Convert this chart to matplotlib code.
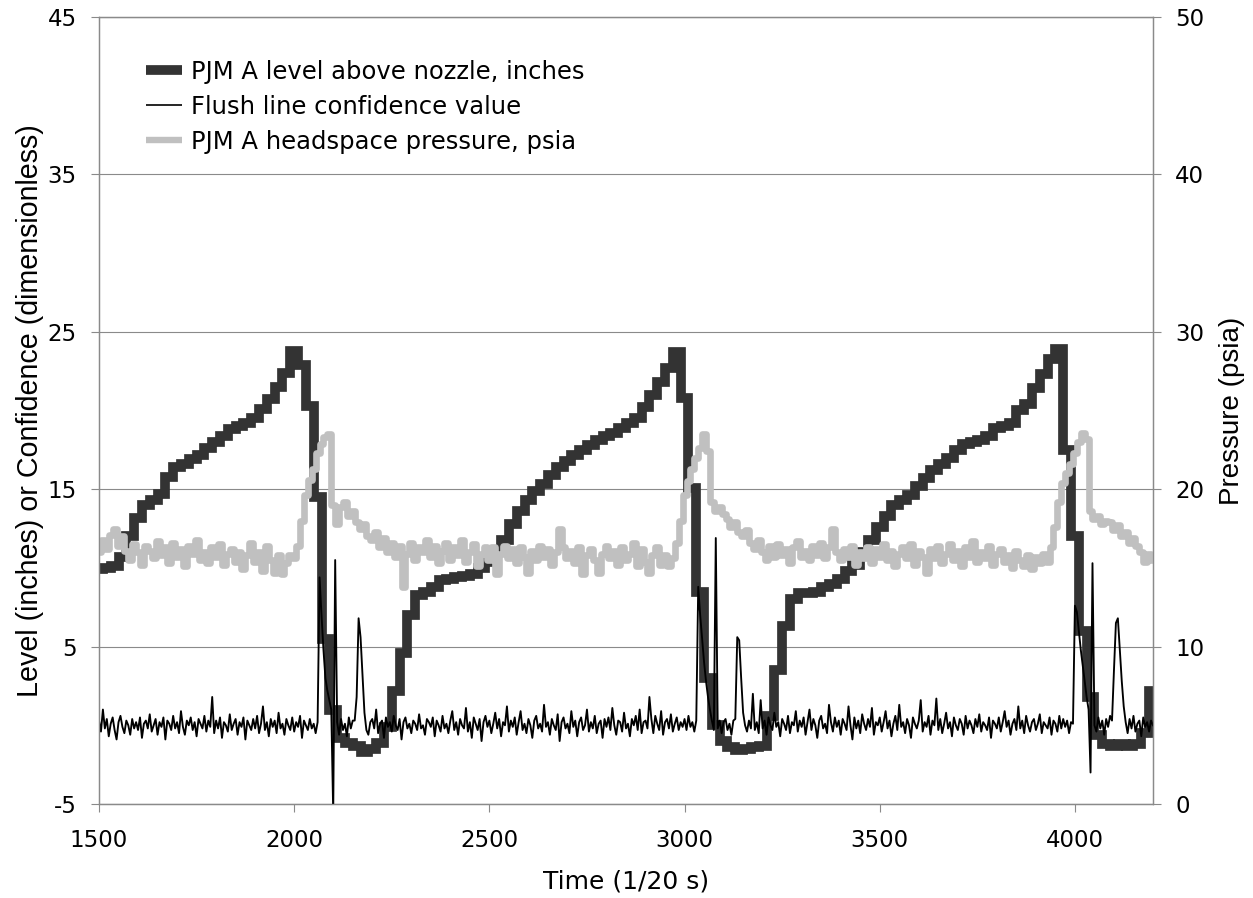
import numpy as np
import matplotlib
matplotlib.use("Agg")
import matplotlib.pyplot as plt

plt.rcParams["axes.unicode_minus"] = False

# ---------------- data ----------------
# PJM A level above nozzle (inches), sampled every 20 time units from 1500
level_start, level_step = 1500, 20
level_values = [
    9.9, 10.0, 10.1, 10.7, 12.0, 13.2, 14.0, 14.3, 14.7, 15.8,
    16.4, 16.6, 16.9, 17.2, 17.6, 18.0, 18.4, 18.8, 19.0, 19.2,
    19.5, 20.1, 20.7, 21.5, 22.4, 23.8, 22.9, 20.3, 14.5, 5.5,
    1.0, -0.8, -1.1, -1.3, -1.7, -1.5, -1.1, -0.1, 2.2, 4.6,
    7.0, 8.3, 8.5, 8.8, 9.2, 9.3, 9.4, 9.5, 9.6, 10.0,
    10.4, 11.0, 11.8, 12.8, 13.6, 14.3, 14.9, 15.3, 15.9, 16.4,
    16.8, 17.2, 17.5, 17.8, 18.1, 18.4, 18.6, 18.9, 19.2, 19.5,
    20.2, 21.0, 21.8, 22.7, 23.7, 20.8, 15.1, 8.5, 3.0, 0.0,
    -1.0, -1.4, -1.6, -1.5, -1.4, -1.3, 0.6, 3.5, 6.3, 8.0,
    8.4, 8.4, 8.5, 8.8, 9.0, 9.3, 9.8, 10.2, 11.0, 11.8,
    12.6, 13.3, 14.0, 14.3, 14.6, 15.2, 15.7, 16.2, 16.6, 17.0,
    17.5, 17.9, 18.0, 18.1, 18.4, 18.9, 19.0, 19.2, 20.0, 20.4,
    21.4, 22.3, 23.3, 23.9, 17.5, 12.0, 6.0, 1.8, -0.6, -1.2,
    -1.3, -1.2, -1.3, -1.2, -0.5, 2.2,
]

# Flush line confidence value (dimensionless), sampled every 5 time units from 1500
conf_start, conf_step = 1500, 5
conf_values = [
    0.3, -0.4, 1.0, -0.2, 0.4, -0.7, 0.1, 0.5, -0.3, -0.9, 0.2, 0.6, -0.1, -0.5, 0.3, 0.0, -0.6, 0.4, -0.2, 0.2,
    -0.3, 0.5, -0.8, 0.1, 0.3, -0.2, 0.7, -0.4, 0.0, 0.4, -0.6, 0.2, -0.1, 0.5, -0.9, 0.3, 0.1, -0.3, 0.6, -0.2,
    0.2, -0.5, 0.9, -0.1, -0.6, 0.3, 0.0, 0.5, -0.3, 0.2, -0.7, 0.4, 0.1, -0.2, 0.6, -0.4, 0.3, -0.1, 1.8, -0.5,
    0.3, -0.2, 0.5, -0.8, 0.2, 0.0, -0.4, 0.7, -0.3, 0.1, 0.4, -0.6, 0.2, -0.1, 0.5, -0.9, 0.3, 0.0, -0.3, 0.4,
    -0.2, 0.6, -0.5, 0.1, 1.2, -0.3, 0.2, -0.7, 0.4, -0.1, 0.3, -0.5, 0.8, -0.2, 0.1, -0.6, 0.4, 0.0, -0.3, 0.5,
    -0.4, 0.2, -0.1, 0.6, -0.8, 0.3, 0.0, -0.3, 0.4, -0.2, 0.1, -0.5, 0.2, 9.4, 7.0, 4.8, 3.0, 2.2, 1.6, 1.0,
    -5.6, 10.5, 0.2, -0.6, 0.4, -0.3, 0.1, -0.7, 0.5, -0.2, 0.3, 0.3, 1.8, 6.8, 5.6, 3.2, 0.8, -0.3, -0.6, 0.2,
    0.4, -0.2, 1.0, -0.5, 0.1, 0.3, -0.8, 0.5, -0.1, 0.2, -0.4, 0.6, 0.0, -0.3, 0.4, -0.9, 0.2, 0.5, -0.2, 0.1,
    -0.5, 0.3, 0.1, -0.3, 0.7, -0.2, 0.0, -0.6, 0.4, 0.2, -0.1, 0.5, -0.7, 0.3, 0.0, -0.4, 0.6, -0.2, 0.1, -0.5,
    0.3, 0.9, -0.3, 0.2, -0.6, 0.4, 0.0, -0.2, 1.1, -0.4, 0.2, -0.8, 0.5, 0.1, -0.3, 0.4, -1.0, 0.2, 0.6, -0.1,
    0.3, -0.5, 0.1, 0.8, -0.2, 0.4, -0.7, 0.2, 0.0, 1.2, -0.4, 0.3, -0.1, 0.5, -0.6, 0.2, 0.9, -0.3, 0.1, -0.5,
    0.4, 0.0, -0.8, 0.3, 0.6, -0.2, 0.1, -0.4, 1.3, -0.1, 0.2, -0.6, 0.4, 0.0, -0.3, 0.7, -1.0, 0.2, 0.5, -0.2,
    0.1, -0.5, 0.9, -0.1, 0.3, -0.7, 0.2, 0.5, -0.3, 0.0, 1.0, -0.4, 0.2, -0.2, 0.6, -0.5, 0.1, 0.3, -0.8, 0.4,
    -0.1, 0.5, -0.3, 1.1, 0.0, -0.6, 0.3, 0.2, -0.4, 0.8, -0.2, 0.1, -0.7, 0.4, 0.0, 0.6, -0.3, 1.0, -0.5, 0.2,
    0.3, -0.2, 1.8, 0.4, -0.5, 0.6, 0.1, -0.3, 0.9, -0.6, 0.2, 0.4, -0.2, 0.7, -0.4, 0.1, 0.5, -0.3, 0.2, -0.1,
    0.4, -0.3, 0.6, -0.1, 0.2, -0.4, 0.3, 8.8, 7.0, 5.5, 4.0, 2.8, 1.8, 1.0, 0.3, -0.3, 11.9, -0.2, 0.3, -0.5,
    0.2, 0.4, -0.3, 0.1, -0.6, 0.3, 0.4, 5.6, 5.4, 3.0, 0.8, 0.0, -0.4, 0.3, -0.2, 2.0, -0.3, 0.2, -0.5, 1.6,
    -0.2, 0.3, -0.6, 0.5, 0.0, -0.3, 0.8, -0.1, 0.2, -0.7, 0.4, 0.1, -0.3, 0.6, -0.5, 0.2, 0.0, 0.9, -0.4, 0.3,
    -0.1, 0.5, -0.6, 0.2, 1.0, -0.3, 0.4, 0.0, -0.8, 0.3, 0.6, -0.2, 0.1, -0.5, 1.3, 0.2, -0.4, 0.5, -0.1, 0.3,
    -0.6, 0.4, 0.1, -0.3, 1.2, 0.0, -0.9, 0.5, -0.2, 0.3, -0.5, 0.7, 0.1, -0.3, 0.4, -0.1, 1.1, -0.6, 0.2, 0.0,
    0.5, -0.4, 0.2, 0.9, -0.2, 0.3, -0.7, 0.1, 0.6, -0.3, 1.3, -0.1, 0.2, -0.5, 0.4, 0.0, -0.8, 0.5, 0.1, -0.2,
    0.3, 1.6, -0.4, 0.2, -0.1, 0.6, -0.6, 0.3, 0.0, 1.7, -0.3, 0.4, -0.5, 0.1, 0.8, -0.2, 0.2, -0.7, 0.5, 0.0,
    -0.3, 0.4, 0.1, -0.6, 0.6, -0.2, 0.3, 0.0, -0.5, 0.4, -0.1, 0.7, -0.4, 0.2, 0.0, -0.3, 0.5, -0.8, 0.3, 0.1,
    -0.2, 0.5, -0.4, 0.2, 0.9, -0.1, 0.3, -0.6, 0.1, 0.4, -0.3, 1.2, -0.2, 0.3, -0.5, 0.6, 0.0, -0.4, 0.2, 0.4,
    -0.3, 0.1, 0.7, -0.5, 0.2, 0.0, -0.2, 0.5, -0.6, 0.3, 0.1, -0.4, 0.6, -0.2, 0.4, -0.1, 0.3, -0.5, 0.2, 0.1,
    7.6, 7.2, 6.0, 4.8, 3.8, 2.8, 1.8, 1.0, -3.0, 10.3, 0.0, -0.4, 0.5, -0.2, 0.3, -0.6, 0.4, -0.1, 0.6, 0.3,
    3.5, 6.5, 6.8, 4.8, 2.8, 1.2, 0.2, -0.5, 0.4, -0.2, 0.6, -0.4, 0.1, 0.3, -0.7, 0.5, -0.1, 0.2, -0.4, 0.3,
    0.0,
]

# PJM A headspace pressure (psia), sampled every 10 time units from 1500
pres_start, pres_step = 1500, 10
pres_values = [
    16.0, 16.8, 16.2, 17.1, 17.5, 16.4, 17.0, 16.1, 15.5, 16.5,
    16.0, 15.2, 16.4, 16.1, 15.6, 16.7, 15.8, 16.3, 15.3, 16.6,
    15.7, 16.2, 15.1, 16.4, 15.9, 16.8, 15.5, 16.0, 15.3, 16.3,
    15.7, 16.5, 15.2, 15.9, 16.2, 15.4, 16.0, 14.9, 15.8, 16.6,
    15.4, 16.0, 14.8, 16.4, 15.5, 14.7, 15.8, 14.6, 15.3, 15.8,
    15.6, 16.4, 18.0, 19.6, 20.6, 21.3, 22.3, 22.9, 23.3, 23.5,
    19.0, 17.8, 18.9, 19.2, 18.3, 18.6, 17.9, 17.5, 17.8, 17.0,
    16.8, 17.3, 16.3, 16.9, 16.0, 16.6, 15.7, 16.4, 13.8, 15.9,
    16.6, 15.5, 16.3, 16.0, 16.8, 15.7, 16.4, 15.3, 16.1, 16.6,
    15.5, 16.3, 15.8, 16.8, 15.4, 16.0, 16.5, 15.1, 15.9, 16.3,
    15.5, 16.3, 14.6, 15.9, 16.4, 15.6, 16.2, 15.3, 16.3, 15.7,
    14.7, 16.1, 15.5, 16.4, 15.7, 16.2, 15.2, 16.0, 17.5, 16.3,
    15.6, 16.1, 15.3, 16.3, 14.6, 15.8, 16.2, 15.5, 14.7, 15.9,
    16.4, 15.6, 16.1, 15.2, 16.3, 15.5, 15.9, 16.6, 15.1, 16.2,
    15.4, 14.7, 15.8, 16.3, 15.2, 15.8, 15.1, 15.6, 16.6, 18.0,
    19.6, 20.5, 21.3, 22.0, 22.6, 23.5, 22.4, 19.2, 18.6, 18.9,
    18.4, 18.1, 17.6, 17.9, 17.3, 17.0, 17.4, 16.6, 16.2, 16.8,
    16.0, 15.5, 16.4, 15.7, 16.5, 15.8, 16.2, 15.3, 16.3, 16.7,
    15.7, 16.1, 15.5, 16.4, 15.8, 16.6, 15.6, 16.3, 17.5, 16.0,
    15.5, 16.2, 15.7, 16.4, 15.2, 16.0, 15.6, 16.3, 15.3, 16.2,
    15.7, 16.5, 15.5, 16.1, 15.1, 15.9, 16.3, 15.6, 16.5, 15.2,
    16.1, 15.7, 14.7, 16.2, 15.6, 16.4, 15.3, 15.9, 16.5, 15.5,
    16.1, 15.1, 16.3, 15.7, 16.7, 15.4, 16.0, 15.6, 16.4, 15.2,
    15.9, 16.2, 15.4, 15.8, 15.0, 16.1, 15.5, 15.1, 15.8, 14.9,
    15.7, 15.3, 15.9, 15.4, 16.3, 17.6, 19.2, 20.4, 21.0, 21.6,
    22.3, 23.0, 23.6, 23.2, 18.6, 18.1, 18.3, 17.8, 18.0, 17.9,
    17.4, 17.7, 17.0, 17.3, 16.6, 16.9, 16.4, 16.0, 15.4, 15.9,
    15.5,
]

x_ticks = [1500, 2000, 2500, 3000, 3500, 4000]
left_ticks = [-5, 5, 15, 25, 35, 45]
right_ticks = [0, 10, 20, 30, 40, 50]

series_labels = ["PJM A level above nozzle, inches",
                 "Flush line confidence value",
                 "PJM A headspace pressure, psia"]

# ---------------- figure ----------------
W, H = 1253, 898
fig = plt.figure(figsize=(W / 100, H / 100), dpi=100)
L, R, T, B = 99, 1153, 17, 804
ax = fig.add_axes([L / W, 1 - B / H, (R - L) / W, (B - T) / H])
ax2 = ax.twinx()

level_x = level_start + level_step * np.arange(len(level_values))
conf_x = conf_start + conf_step * np.arange(len(conf_values))
pres_x = pres_start + pres_step * np.arange(len(pres_values))

c_level = "#333333"
c_pres = "#c0c0c0"
grid_c = "#8a8a8a"

h1, = ax.plot(level_x, level_values, color=c_level, lw=7.0, drawstyle="steps-mid",
              solid_joinstyle="miter", zorder=2, label=series_labels[0])
h2, = ax.plot(conf_x, conf_values, color="black", lw=1.35, zorder=3, label=series_labels[1])
h3, = ax2.plot(pres_x, pres_values, color=c_pres, lw=4.8, drawstyle="steps-mid",
               zorder=2, label=series_labels[2])

ax.set_xlim(1500, 4200)
ax.set_ylim(-5, 45)
ax2.set_ylim(0, 50)
ax.set_xticks(x_ticks)
ax.set_yticks(left_ticks)
ax2.set_yticks(right_ticks)

ax.set_axisbelow(True)
ax.yaxis.grid(True, color=grid_c, lw=0.8)
ax.xaxis.grid(False)

for a in (ax, ax2):
    for s in a.spines.values():
        s.set_color(grid_c)
        s.set_linewidth(0.9)

ax.tick_params(axis="both", direction="out", length=6, width=0.8, color=grid_c, pad=10,
               labelsize=16.5)
ax.tick_params(axis="x", pad=12)
ax2.tick_params(axis="y", direction="out", length=6, width=0.8, color=grid_c, pad=10,
                labelsize=16.5)
for lab in ax.get_xticklabels() + ax.get_yticklabels() + ax2.get_yticklabels():
    lab.set_fontfamily("DejaVu Sans")

ax.set_xlabel("Time (1/20 s)", fontsize=18, family="DejaVu Sans")
ax.set_ylabel("Level (inches) or Confidence (dimensionless)", fontsize=20.6,
              family=["Liberation Sans Narrow", "Liberation Sans"])
ax2.set_ylabel("Pressure (psia)", fontsize=20, family=["Liberation Sans Narrow", "Liberation Sans"])
ax.xaxis.set_label_coords(0.5, (B - 870) / (B - T))
ax.yaxis.set_label_coords((44 - L) / (R - L), 0.5)
ax2.yaxis.set_label_coords((1219 - L) / (R - L), 0.5)

leg = ax2.legend(handles=[h1, h2, h3], loc="upper left",
                 bbox_to_anchor=((146 - L) / (R - L), 1 - (60 - T) / (B - T)),
                 frameon=False, handlelength=1.5, handletextpad=0.35,
                 labelspacing=0.45, borderpad=0, borderaxespad=0,
                 prop=dict(family="DejaVu Sans", size=17.5))
for line in leg.get_lines():
    line.set_solid_capstyle("butt")
leg.get_lines()[0].set_linewidth(7)
leg.get_lines()[1].set_linewidth(1.2)
leg.get_lines()[2].set_linewidth(4.6)

fig.savefig("out.png", dpi=100)
